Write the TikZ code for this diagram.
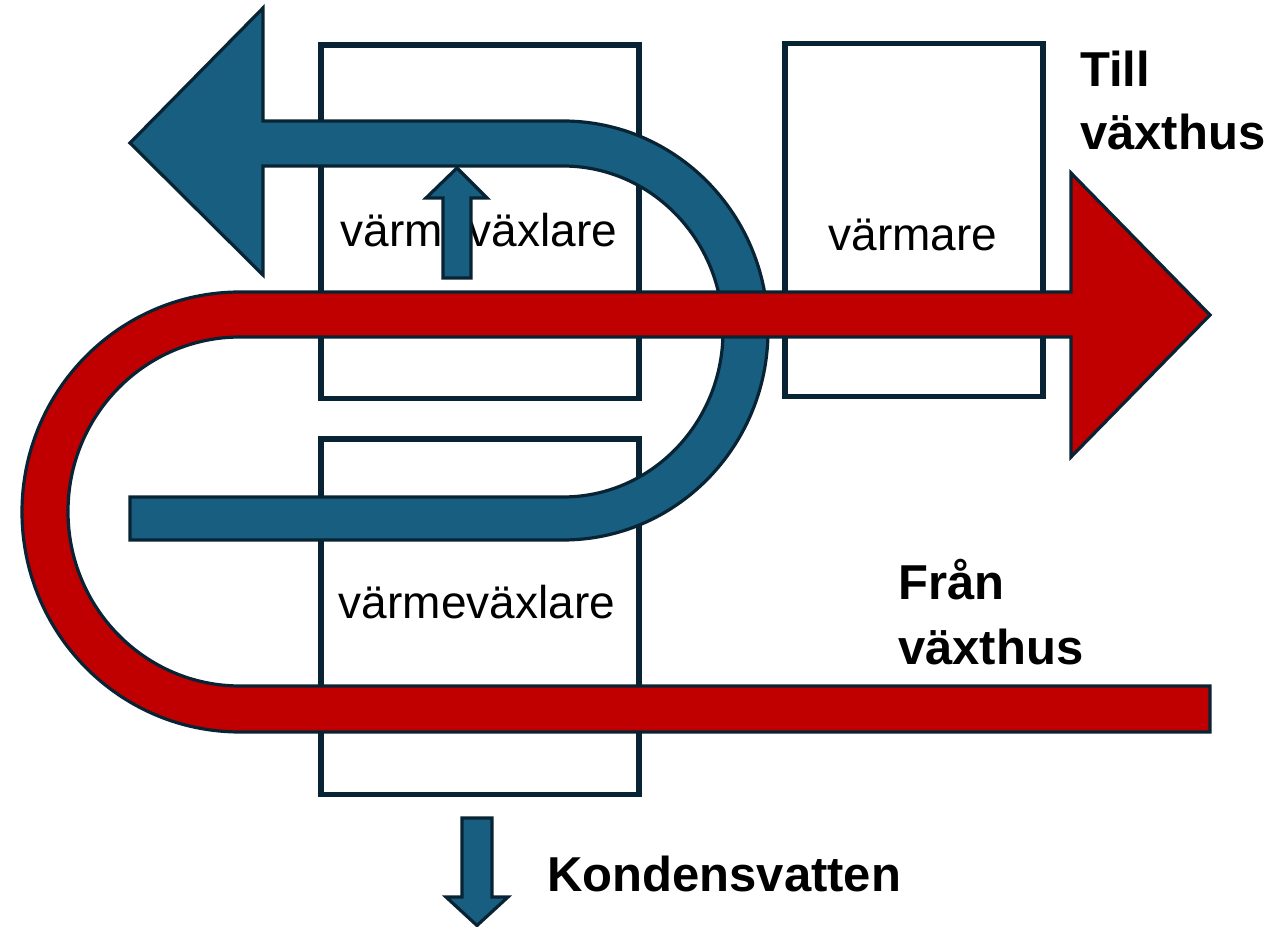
\documentclass[tikz,border=0pt]{standalone}
\usepackage{fontspec}
\setmainfont{Liberation Sans}
\definecolor{outl}{RGB}{8,36,52}
\definecolor{pipeblue}{RGB}{23,94,128}
\definecolor{pipered}{RGB}{192,0,0}
\tikzset{
  unitbox/.style={draw=outl, line width=5.5pt, fill=white, inner sep=0pt, outer sep=0pt},
  boxlabel/.style={font=\fontsize{46}{55}\selectfont, inner sep=0pt, anchor=base},
  biglabel/.style={font=\bfseries\fontsize{49}{58}\selectfont, inner sep=0pt, anchor=base west},
  bluepipe/.style={fill=pipeblue, draw=outl, line width=3.2pt, line join=miter},
  redpipe/.style={fill=pipered, draw=outl, line width=3.2pt, line join=miter}
}
\begin{document}
\begin{tikzpicture}[x=1pt, y=1pt]
\useasboundingbox (0,0) rectangle (1278,927);
\fill[white] (0,0) rectangle (1278,927);

% boxes
\node[unitbox, minimum width=318pt, minimum height=353.5pt] (hx1) at (480,705.25) {};
\node[unitbox, minimum width=318pt, minimum height=355.5pt] (hx2) at (480,310.25) {};
\node[unitbox, minimum width=258pt, minimum height=353pt] (heater) at (914,706.8) {};

% box labels
\node[boxlabel] (hx1label) at (479,680) {värmeväxlare};
\node[boxlabel] (hx2label) at (477,308) {värmeväxlare};
\node[boxlabel] (heaterlabel) at (913,676) {värmare};

% blue pipe (outgoing air, top arrow)
\draw[bluepipe] (130,784) -- (263,919) -- (263,806) -- (563,806)
  arc[start angle=90, end angle=-90, x radius=205, y radius=209.5]
  -- (130,387) -- (130,430) -- (563,430)
  arc[start angle=-90, end angle=90, x radius=160, y radius=165.5]
  -- (263,761) -- (263,652) -- cycle;

% small up arrow in upper heat exchanger
\draw[bluepipe] (443,649) -- (443,729) -- (426,729) -- (457,759) -- (487,729) -- (471,729) -- (471,649) -- cycle;

% red pipe (greenhouse air)
\draw[redpipe] (1210,195) -- (240,195)
  arc[start angle=270, end angle=90, x radius=218, y radius=220]
  -- (1071,635) -- (1071,754) -- (1210,612) -- (1071,470) -- (1071,590) -- (240,590)
  arc[start angle=90, end angle=270, x radius=172, y radius=174.5]
  -- (1210,241) -- cycle;

% condensate arrow
\draw[bluepipe] (462,109) -- (492,109) -- (492,30) -- (508,30) -- (477,1.5) -- (446,30) -- (462,30) -- cycle;

% labels
\node[biglabel] (till1) at (1080,840) {Till};
\node[biglabel] (till2) at (1080,777) {växthus};
\node[biglabel] (fran1) at (898,327) {Från};
\node[biglabel] (fran2) at (898,262) {växthus};
\node[biglabel] (kond) at (547,35) {Kondensvatten};
\end{tikzpicture}
\end{document}
